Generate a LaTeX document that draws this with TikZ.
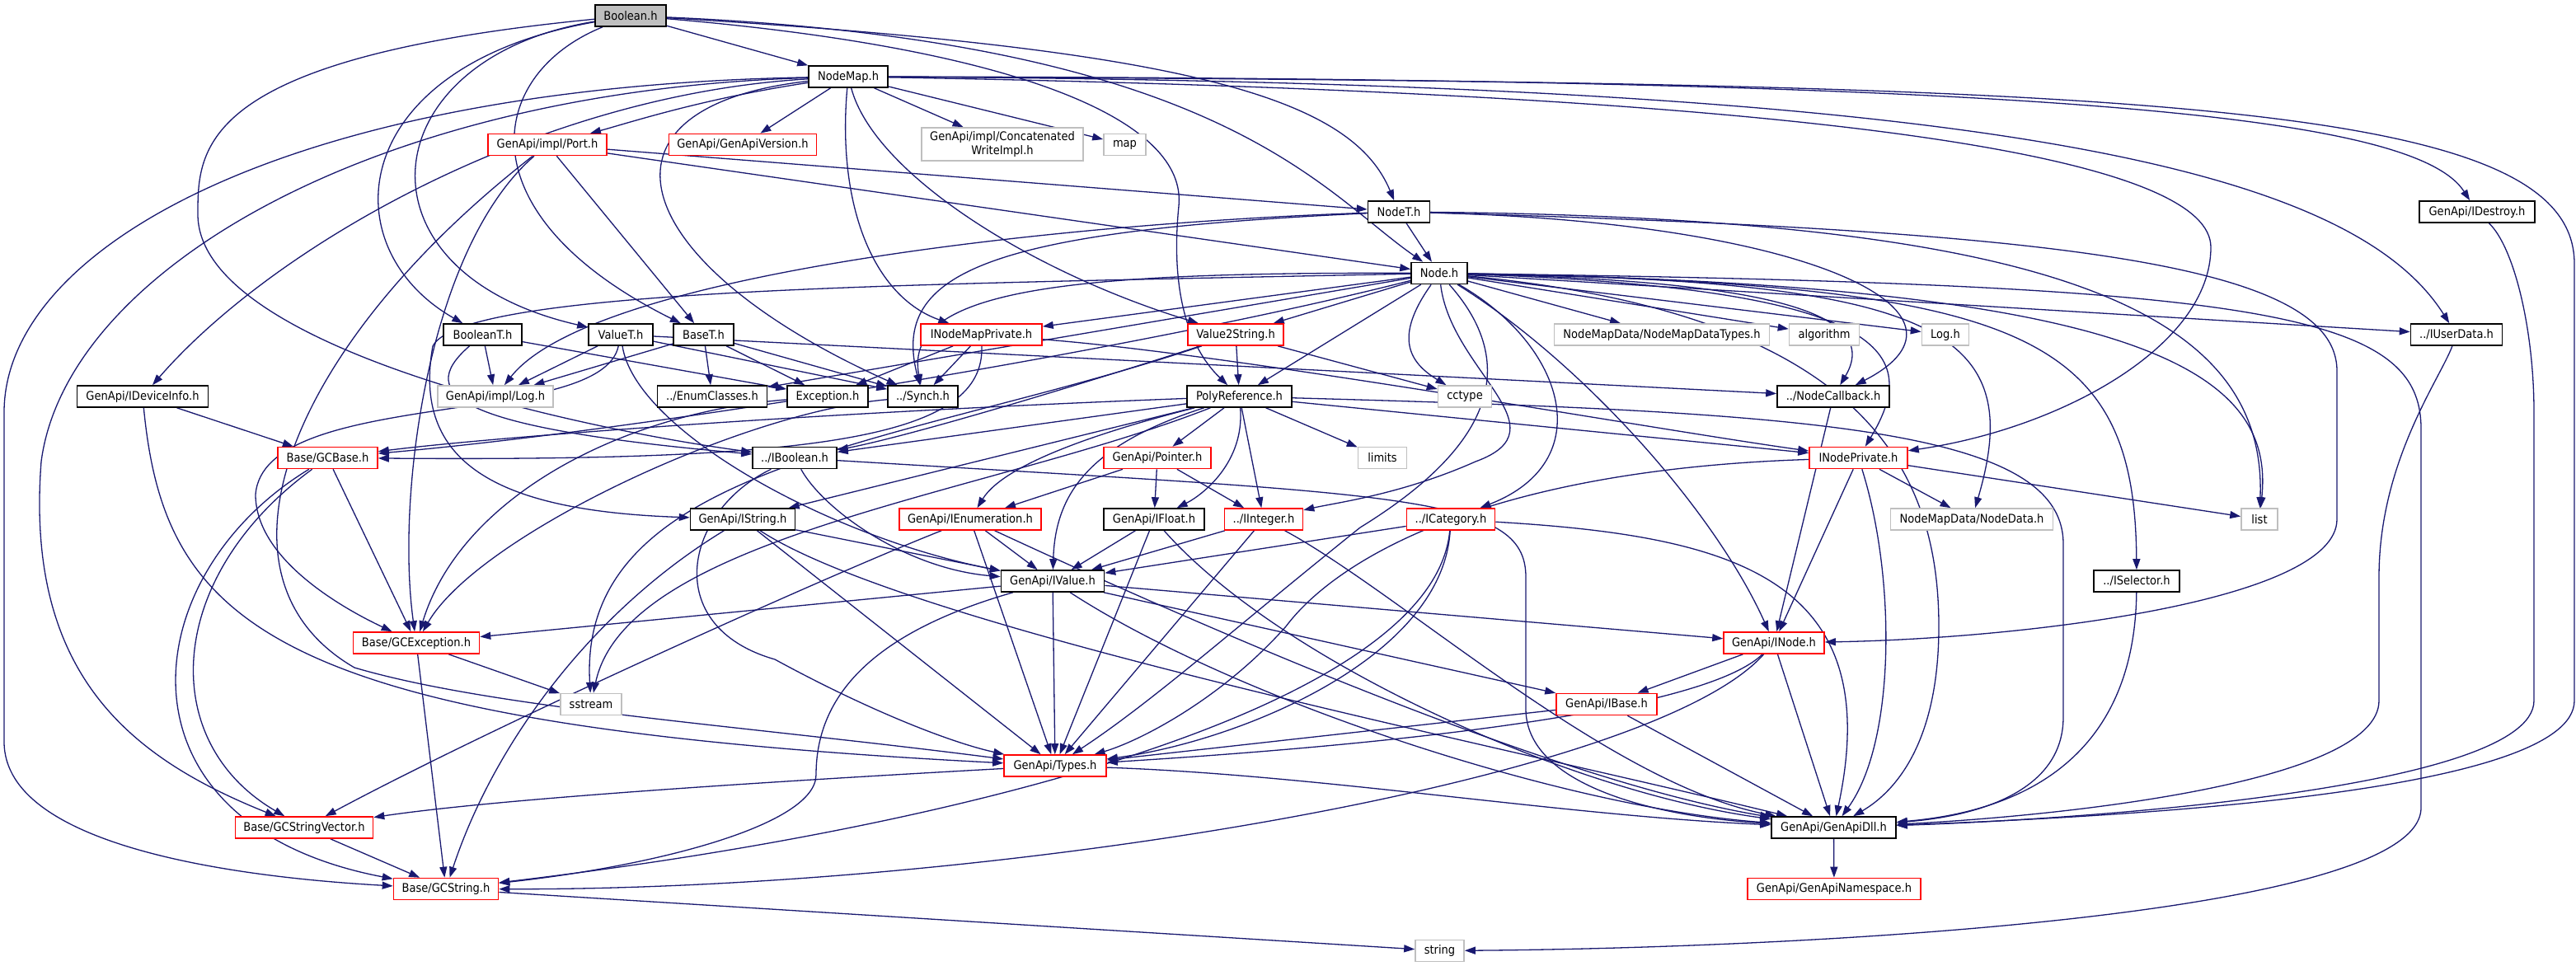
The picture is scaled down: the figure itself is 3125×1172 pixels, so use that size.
\documentclass[tikz,border=0pt]{standalone}
\usepackage{fontspec}
\usetikzlibrary{arrows.meta}
\newfontfamily\dfont{DejaVu Sans}[FakeStretch=0.9]
\newcommand{\filefont}{\dfont\fontsize{14.5}{17}\selectfont}
\definecolor{edgeblue}{HTML}{191970}
\definecolor{boxgray}{HTML}{BFBFBF}
\pgfdeclarelayer{background}
\pgfsetlayers{background,main}
\tikzset{
  file/.style={draw=black, line width=1.6pt, fill=white, minimum height=26pt,
    inner sep=0pt, font=\filefont},
  redfile/.style={file, draw=red},
  sysfile/.style={file, draw=boxgray},
  mainfile/.style={file, fill=boxgray},
  dep/.style={draw=edgeblue, line width=1.3pt, -{Triangle[length=13pt,width=9pt]}},
}
\begin{document}
\begin{tikzpicture}[x=1pt,y=-1pt]
  % files
  \node[mainfile, minimum width=86pt] (boolean) at (765,19) {Boolean.h};
  \node[file, minimum width=96pt] (nodemap) at (1029,93) {NodeMap.h};
  \node[redfile, minimum width=144pt] (port) at (664,175.5) {GenApi/impl/Port.h};
  \node[redfile, minimum width=179pt] (version) at (901,175.5) {GenApi/GenApiVersion.h};
  \node[sysfile, minimum width=196pt, minimum height=40pt, align=center] (concat) at (1216,175) {GenApi/impl/Concatenated\\WriteImpl.h};
  \node[sysfile, minimum width=51pt] (map) at (1364.5,175.5) {map};
  \node[file, minimum width=75pt] (nodeT) at (1697,257) {NodeT.h};
  \node[file, minimum width=140pt] (idestroy) at (3005,257) {GenApi/IDestroy.h};
  \node[file, minimum width=68pt] (node) at (1746,331.5) {Node.h};
  \node[file, minimum width=95pt] (booleanT) at (585.5,406) {BooleanT.h};
  \node[file, minimum width=78pt] (valueT) at (753,406) {ValueT.h};
  \node[file, minimum width=73pt] (baseT) at (853.5,406) {BaseT.h};
  \node[redfile, minimum width=147pt] (inodemapprivate) at (1190.5,406) {INodeMapPrivate.h};
  \node[redfile, minimum width=116pt] (value2string) at (1499,406) {Value2String.h};
  \node[sysfile, minimum width=261pt] (nodemapdatatypes) at (2016,406) {NodeMapData/NodeMapDataTypes.h};
  \node[sysfile, minimum width=85pt] (algorithm) at (2213,406) {algorithm};
  \node[sysfile, minimum width=57pt] (logh) at (2360,406) {Log.h};
  \node[file, minimum width=111pt] (iuserdata) at (2980,406) {../IUserData.h};
  \node[file, minimum width=159pt] (ideviceinfo) at (173,481) {GenApi/IDeviceInfo.h};
  \node[sysfile, minimum width=140pt] (implLog) at (601,481) {GenApi/impl/Log.h};
  \node[file, minimum width=133pt] (enumclasses) at (864,481) {../EnumClasses.h};
  \node[file, minimum width=98pt] (exception) at (1004,481) {Exception.h};
  \node[file, minimum width=85pt] (synch) at (1119.5,481) {../Synch.h};
  \node[file, minimum width=127pt] (polyref) at (1503.5,481) {PolyReference.h};
  \node[sysfile, minimum width=65pt] (cctype) at (1777,481) {cctype};
  \node[file, minimum width=136pt] (nodecallback) at (2224,481) {../NodeCallback.h};
  \node[redfile, minimum width=121pt] (gcbase) at (397.5,555.5) {Base/GCBase.h};
  \node[file, minimum width=102pt] (iboolean) at (964,555.5) {../IBoolean.h};
  \node[redfile, minimum width=130pt] (pointer) at (1404,555.5) {GenApi/Pointer.h};
  \node[sysfile, minimum width=59pt] (limits) at (1677,555.5) {limits};
  \node[redfile, minimum width=119pt] (inodeprivate) at (2254.5,555.5) {INodePrivate.h};
  \node[file, minimum width=127pt] (istring) at (901,630) {GenApi/IString.h};
  \node[redfile, minimum width=172pt] (ienumeration) at (1177,630) {GenApi/IEnumeration.h};
  \node[file, minimum width=122pt] (ifloat) at (1400,630) {GenApi/IFloat.h};
  \node[redfile, minimum width=95pt] (iinteger) at (1533,630) {../IInteger.h};
  \node[redfile, minimum width=107pt] (icategory) at (1760,630) {../ICategory.h};
  \node[sysfile, minimum width=197pt] (nodedata) at (2392,630) {NodeMapData/NodeData.h};
  \node[sysfile, minimum width=44pt] (list) at (2741,630) {list};
  \node[file, minimum width=125pt] (ivalue) at (1277,705) {GenApi/IValue.h};
  \node[file, minimum width=104pt] (iselector) at (2592,705) {../ISelector.h};
  \node[redfile, minimum width=153pt] (gcexception) at (505,780) {Base/GCException.h};
  \node[redfile, minimum width=122pt] (inode) at (2152,780) {GenApi/INode.h};
  \node[sysfile, minimum width=74pt] (sstream) at (717,854.5) {sstream};
  \node[redfile, minimum width=122pt] (ibase) at (1949,854.5) {GenApi/IBase.h};
  \node[redfile, minimum width=124pt] (types) at (1280,929) {GenApi/Types.h};
  \node[redfile, minimum width=167pt] (gcstringvector) at (369,1004) {Base/GCStringVector.h};
  \node[file, minimum width=151pt] (genapidll) at (2224.5,1004) {GenApi/GenApiDll.h};
  \node[redfile, minimum width=127pt] (gcstring) at (541,1078.5) {Base/GCString.h};
  \node[redfile, minimum width=210pt] (genapinamespace) at (2225,1078.5) {GenApi/GenApiNamespace.h};
  \node[sysfile, minimum width=59pt] (string) at (1746.5,1153.5) {string};

  \begin{pgfonlayer}{background}
  \path[use as bounding box, fill=white] (0,0) rectangle (3125,1172);
  % Boolean.h
  \draw[dep] (boolean) -- (nodemap);
  \draw[dep] (boolean) .. controls (420,80) and (400,300) .. (booleanT);
  \draw[dep] (boolean) .. controls (450,70) and (420,330) .. (valueT);
  \draw[dep] (boolean) .. controls (590,90) and (560,260) .. (baseT);
  \draw[dep] (boolean) .. controls (1450,60) and (1640,120) .. (nodeT);
  \draw[dep] (boolean) .. controls (1480,50) and (1600,230) .. (node);
  \draw[dep] (boolean) .. controls (1250,60) and (1440,150) .. (1430,250)
    .. controls (1420,350) and (1440,420) .. (polyref);
  \draw[dep] (boolean) .. controls (240,70) and (240,180) .. (240,260)
    .. controls (240,420) and (700,520) .. (iboolean);
  % NodeMap.h
  \draw[dep] (nodemap) .. controls (850,120) and (760,150) .. (port);
  \draw[dep] (nodemap) -- (version);
  \draw[dep] (nodemap) -- (concat);
  \draw[dep] (nodemap) -- (map);
  \draw[dep] (nodemap) .. controls (1015,250) and (1060,360) .. (inodemapprivate);
  \draw[dep] (nodemap) .. controls (1060,210) and (1250,330) .. (value2string);
  \draw[dep] (nodemap) .. controls (700,130) and (760,320) .. (synch);
  \draw[dep] (nodemap) .. controls (2500,95) and (2930,140) .. (idestroy);
  \draw[dep] (nodemap) .. controls (2400,100) and (2850,200) .. (iuserdata);
  \draw[dep] (nodemap) .. controls (2600,100) and (3123,120) .. (3123,320) -- (3123,850)
    .. controls (3123,960) and (2600,990) .. (genapidll);
  \draw[dep] (nodemap) .. controls (2300,115) and (2682,200) .. (2682,300)
    .. controls (2682,420) and (2500,520) .. (inodeprivate);
  \draw[dep] (nodemap) .. controls (650,115) and (330,300) .. (ideviceinfo);
  \draw[dep] (nodemap) .. controls (450,110) and (80,330) .. (50,560)
    .. controls (30,820) and (160,920) .. (gcstringvector);
  \draw[dep] (nodemap) .. controls (350,105) and (5,300) .. (5,500) -- (5,900)
    .. controls (5,1030) and (300,1065) .. (gcstring);
  % Port.h
  \draw[dep] (port) -- (nodeT);
  \draw[dep] (port) -- (node);
  \draw[dep] (port) -- (baseT);
  \draw[dep] (port) .. controls (350,420) and (240,700) .. (430,810)
    .. controls (600,860) and (900,880) .. (types);
  \draw[dep] (port) .. controls (520,300) and (480,600) .. (gcexception);
  % NodeT.h
  \draw[dep] (nodeT) -- (node);
  \draw[dep] (nodeT) .. controls (1300,270) and (720,330) .. (implLog);
  \draw[dep] (nodeT) .. controls (1200,280) and (1080,330) .. (synch);
  \draw[dep] (nodeT) .. controls (2200,270) and (2420,380) .. (nodecallback);
  \draw[dep] (nodeT) .. controls (2500,265) and (2750,380) .. (list);
  \draw[dep] (nodeT) .. controls (2500,280) and (2835,320) .. (2835,450) -- (2835,630)
    .. controls (2835,730) and (2450,775) .. (inode);
  % Node.h
  \draw[dep] (node) .. controls (1300,330) and (1095,350) .. (synch);
  \draw[dep] (node) -- (enumclasses);
  \draw[dep] (node) -- (inodemapprivate);
  \draw[dep] (node) -- (value2string);
  \draw[dep] (node) -- (polyref);
  \draw[dep] (node) .. controls (1690,410) and (1710,440) .. (cctype);
  \draw[dep] (node) .. controls (2100,340) and (2290,370) .. (nodecallback);
  \draw[dep] (node) .. controls (2300,350) and (2330,430) .. (inodeprivate);
  \draw[dep] (node) -- (nodemapdatatypes);
  \draw[dep] (node) -- (algorithm);
  \draw[dep] (node) -- (logh);
  \draw[dep] (node) -- (iuserdata);
  \draw[dep] (node) .. controls (2350,340) and (2460,400) .. (nodedata);
  \draw[dep] (node) .. controls (2600,345) and (2760,450) .. (list);
  \draw[dep] (node) .. controls (2450,345) and (2590,400) .. (iselector);
  \draw[dep] (node) .. controls (2750,345) and (2937,380) .. (2937,520) -- (2937,980)
    .. controls (2937,1110) and (2200,1150) .. (string);
  \draw[dep] (node) .. controls (2250,380) and (2352,560) .. (2352,760)
    .. controls (2352,900) and (2300,960) .. (genapidll);
  \draw[dep] (node) .. controls (1900,420) and (1940,560) .. (icategory);
  \draw[dep] (node) .. controls (1760,450) and (1900,520) .. (1790,560)
    .. controls (1700,600) and (1620,610) .. (iinteger);
  \draw[dep] (node) .. controls (1860,460) and (1780,560) .. (1650,640)
    .. controls (1500,760) and (1400,850) .. (types);
  \draw[dep] (node) .. controls (1920,440) and (2080,620) .. (inode);
  \draw[dep] (node) .. controls (1100,345) and (560,350) .. (525,420)
    .. controls (500,560) and (600,620) .. (istring);
  \draw[dep] (node) .. controls (1400,420) and (800,520) .. (gcbase);
  % BooleanT.h, ValueT.h, BaseT.h
  \draw[dep] (booleanT) -- (implLog);
  \draw[dep] (booleanT) -- (exception);
  \draw[dep] (booleanT) .. controls (500,480) and (560,520) .. (iboolean);
  \draw[dep] (valueT) -- (implLog);
  \draw[dep] (valueT) -- (synch);
  \draw[dep] (valueT) -- (nodecallback);
  \draw[dep] (valueT) .. controls (730,520) and (320,470) .. (310,600)
    .. controls (310,680) and (420,740) .. (gcexception);
  \draw[dep] (valueT) .. controls (770,520) and (1000,650) .. (ivalue);
  \draw[dep] (baseT) -- (enumclasses);
  \draw[dep] (baseT) -- (exception);
  \draw[dep] (baseT) -- (synch);
  \draw[dep] (baseT) -- (implLog);
  % INodeMapPrivate.h, Value2String.h
  \draw[dep] (inodemapprivate) -- (exception);
  \draw[dep] (inodemapprivate) -- (synch);
  \draw[dep] (inodemapprivate) .. controls (1500,430) and (2000,520) .. (inodeprivate);
  \draw[dep] (inodemapprivate) .. controls (1195,530) and (1000,560) .. (gcbase);
  \draw[dep] (value2string) -- (polyref);
  \draw[dep] (value2string) -- (cctype);
  \draw[dep] (value2string) .. controls (1300,470) and (1100,530) .. (iboolean);
  \draw[dep] (value2string) .. controls (1100,540) and (700,560) .. (sstream);
  % Exception.h, ../Synch.h
  \draw[dep] (exception) .. controls (760,500) and (560,600) .. (gcexception);
  \draw[dep] (synch) .. controls (900,500) and (580,650) .. (gcexception);
  % PolyReference.h
  \draw[dep] (polyref) -- (pointer);
  \draw[dep] (polyref) .. controls (1510,560) and (1460,600) .. (ifloat);
  \draw[dep] (polyref) -- (iinteger);
  \draw[dep] (polyref) .. controls (1350,520) and (1220,560) .. (ienumeration);
  \draw[dep] (polyref) .. controls (1320,540) and (1280,600) .. (ivalue);
  \draw[dep] (polyref) -- (istring);
  \draw[dep] (polyref) -- (iboolean);
  \draw[dep] (polyref) -- (limits);
  \draw[dep] (polyref) -- (inodeprivate);
  \draw[dep] (polyref) .. controls (1000,500) and (600,530) .. (gcbase);
  \draw[dep] (polyref) .. controls (1200,600) and (760,650) .. (sstream);
  \draw[dep] (polyref) .. controls (2200,500) and (2503,520) .. (2503,660) -- (2503,870)
    .. controls (2503,960) and (2400,990) .. (genapidll);
  % GenApi/Pointer.h
  \draw[dep] (pointer) -- (ienumeration);
  \draw[dep] (pointer) -- (ifloat);
  \draw[dep] (pointer) -- (iinteger);
  % interfaces
  \draw[dep] (istring) -- (ivalue);
  \draw[dep] (istring) -- (types);
  \draw[dep] (istring) .. controls (1100,760) and (1800,900) .. (genapidll);
  \draw[dep] (istring) .. controls (720,740) and (600,900) .. (gcstring);
  \draw[dep] (iboolean) .. controls (1000,620) and (1100,690) .. (ivalue);
  \draw[dep] (iboolean) .. controls (830,620) and (800,760) .. (940,800)
    .. controls (1050,860) and (1150,900) .. (types);
  \draw[dep] (iboolean) .. controls (1700,600) and (1851,600) .. (1851,700) -- (1851,860)
    .. controls (1851,950) and (2000,990) .. (genapidll);
  \draw[dep] (ienumeration) -- (ivalue);
  \draw[dep] (ienumeration) -- (types);
  \draw[dep] (ienumeration) .. controls (1500,780) and (1900,950) .. (genapidll);
  \draw[dep] (ienumeration) .. controls (1000,700) and (600,880) .. (gcstringvector);
  \draw[dep] (ifloat) -- (ivalue);
  \draw[dep] (ifloat) -- (types);
  \draw[dep] (ifloat) .. controls (1550,800) and (1900,960) .. (genapidll);
  \draw[dep] (iinteger) -- (ivalue);
  \draw[dep] (iinteger) -- (types);
  \draw[dep] (iinteger) .. controls (1700,720) and (1950,950) .. (genapidll);
  \draw[dep] (icategory) -- (ivalue);
  \draw[dep] (icategory) .. controls (1750,800) and (1500,900) .. (types);
  \draw[dep] (icategory) .. controls (1740,850) and (1200,1000) .. (gcstring);
  \draw[dep] (icategory) .. controls (2100,650) and (2290,700) .. (genapidll);
  \draw[dep] (iselector) .. controls (2590,880) and (2500,980) .. (genapidll);
  \draw[dep] (ivalue) -- (inode);
  \draw[dep] (ivalue) -- (ibase);
  \draw[dep] (ivalue) -- (types);
  \draw[dep] (ivalue) .. controls (1500,850) and (1900,980) .. (genapidll);
  \draw[dep] (ivalue) -- (gcexception);
  \draw[dep] (ivalue) .. controls (1050,770) and (990,850) .. (990,940)
    .. controls (990,1000) and (800,1050) .. (gcstring);
  % INodePrivate.h, NodeCallback.h
  \draw[dep] (inodeprivate) -- (nodedata);
  \draw[dep] (inodeprivate) -- (list);
  \draw[dep] (inodeprivate) -- (inode);
  \draw[dep] (inodeprivate) .. controls (2300,700) and (2300,900) .. (genapidll);
  \draw[dep] (inodeprivate) .. controls (1800,570) and (1620,680) .. (1560,760)
    .. controls (1480,850) and (1380,900) .. (types);
  \draw[dep] (nodecallback) -- (inode);
  % INode.h, IBase.h, Types.h
  \draw[dep] (inode) -- (ibase);
  \draw[dep] (inode) .. controls (2050,880) and (1500,915) .. (types);
  \draw[dep] (inode) .. controls (2000,950) and (1200,1080) .. (gcstring);
  \draw[dep] (inode) -- (genapidll);
  \draw[dep] (ibase) -- (genapidll);
  \draw[dep] (ibase) -- (types);
  \draw[dep] (types) .. controls (1600,940) and (1900,990) .. (genapidll);
  \draw[dep] (types) .. controls (900,950) and (600,970) .. (gcstringvector);
  % Base
  \draw[dep] (ideviceinfo) -- (gcbase);
  \draw[dep] (ideviceinfo) .. controls (200,760) and (330,880) .. (types);
  \draw[dep] (gcbase) -- (gcexception);
  \draw[dep] (gcbase) .. controls (160,700) and (130,1000) .. (gcstring);
  \draw[dep] (gcbase) .. controls (200,700) and (190,900) .. (gcstringvector);
  \draw[dep] (gcexception) -- (gcstring);
  \draw[dep] (gcexception) -- (sstream);
  \draw[dep] (gcstringvector) -- (gcstring);
  \draw[dep] (gcstring) -- (string);
  % right side
  \draw[dep] (genapidll) -- (genapinamespace);
  \draw[dep] (idestroy) .. controls (3050,300) and (3074,400) .. (3074,500) -- (3074,850)
    .. controls (3074,960) and (2500,995) .. (genapidll);
  \draw[dep] (iuserdata) .. controls (2960,460) and (2886,560) .. (2886,700) -- (2886,850)
    .. controls (2886,950) and (2500,990) .. (genapidll);
  \end{pgfonlayer}
\end{tikzpicture}
\end{document}
